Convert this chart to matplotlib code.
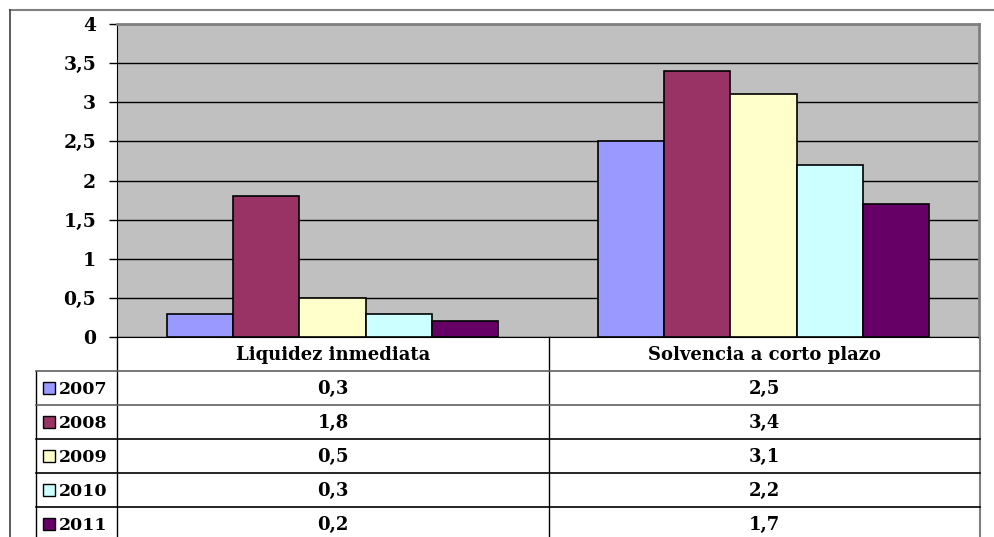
import numpy as np
import matplotlib.pyplot as plt
from matplotlib.lines import Line2D
from matplotlib.patches import Rectangle

# Datos
categorias = ['Liquidez inmediata', 'Solvencia a corto plazo']
anios = ['2007', '2008', '2009', '2010', '2011']
v2007 = [0.3, 2.5]
v2008 = [1.8, 3.4]
v2009 = [0.5, 3.1]
v2010 = [0.3, 2.2]
v2011 = [0.2, 1.7]
series = [v2007, v2008, v2009, v2010, v2011]
colores = ['#9999FF', '#993366', '#FFFFCC', '#CCFFFF', '#660066']
yticks = [0, 0.5, 1, 1.5, 2, 2.5, 3, 3.5, 4]

W, H = 995, 537
plt.rcParams['font.family'] = 'DejaVu Serif'
plt.rcParams['font.weight'] = 'bold'
plt.rcParams['font.size'] = 13

fig = plt.figure(figsize=(W / 100, H / 100), dpi=100)
fig.patch.set_facecolor('white')

# area del grafico en pixeles
x0, x1, ytop, ybot = 117, 979, 24, 337
ax = fig.add_axes([x0 / W, 1 - ybot / H, (x1 - x0) / W, (ybot - ytop) / H])
ax.set_facecolor('#C0C0C0')

n = len(series)
bw = 1 / (n + 1.5)
xc = np.arange(len(categorias))
for i, (vals, c) in enumerate(zip(series, colores)):
    ax.bar(xc + (i - (n - 1) / 2) * bw, vals, width=bw, color=c,
           edgecolor='black', linewidth=1.2, zorder=3)

ax.set_xlim(-0.5, len(categorias) - 0.5)
ax.set_ylim(0, 4)
ax.set_yticks(yticks)
ax.set_yticklabels([('%g' % t).replace('.', ',') for t in yticks],
                   fontsize=13.5, fontweight='bold')
ax.yaxis.grid(True, color='black', linewidth=1, zorder=1)
ax.set_xticks([])
ax.tick_params(axis='y', direction='out', length=6, width=1, pad=9)
for s in ['top', 'right']:
    ax.spines[s].set_color('#808080')
    ax.spines[s].set_linewidth(2)
ax.spines['left'].set_color('black')
ax.spines['bottom'].set_color('black')

# tabla de datos y bordes en coordenadas de pixel
ov = fig.add_axes([0, 0, 1, 1], zorder=5)
ov.set_xlim(0, W)
ov.set_ylim(H, 0)
ov.axis('off')
ov.patch.set_alpha(0)

def linea(xs, ys, color='black', lw=1):
    ov.add_line(Line2D(xs, ys, color=color, linewidth=lw))

# borde exterior
linea([10, W], [10, 10], '#808080', 1.5)
linea([10, 10], [10, H], '#404040', 1.2)

t_left, col_div = 36, 549
row_h = 34
header_bot = 371
rows = [header_bot + k * row_h for k in range(n + 1)]

linea([x0, x0], [ybot, H])
linea([col_div, col_div], [ybot, H])
linea([x1 + 1, x1 + 1], [ybot, H], '#808080', 1.5)
linea([t_left, t_left], [header_bot, H])
for k, y in enumerate(rows[:-1]):
    linea([t_left, x1 + 1], [y, y], '#606060' if k < 2 else 'black', 1.2)

centros = [(x0 + col_div) / 2, (col_div + x1) / 2]
for cx, cat in zip(centros, categorias):
    ov.text(cx, (ybot + header_bot) / 2 + 1, cat, ha='center', va='center',
            fontsize=13, fontweight='bold')

for k, (anio, vals, c) in enumerate(zip(anios, series, colores)):
    yc = rows[k] + row_h / 2
    ov.add_patch(Rectangle((43, yc - 6), 12, 12, facecolor=c,
                           edgecolor='black', linewidth=1))
    ov.text(59, yc + 1, anio, ha='left', va='center', fontsize=12.5,
            fontweight='bold')
    for cx, v in zip(centros, vals):
        ov.text(cx, yc + 1, ('%g' % v).replace('.', ','), ha='center',
                va='center', fontsize=13, fontweight='bold')

fig.savefig('out.png', dpi=100)
